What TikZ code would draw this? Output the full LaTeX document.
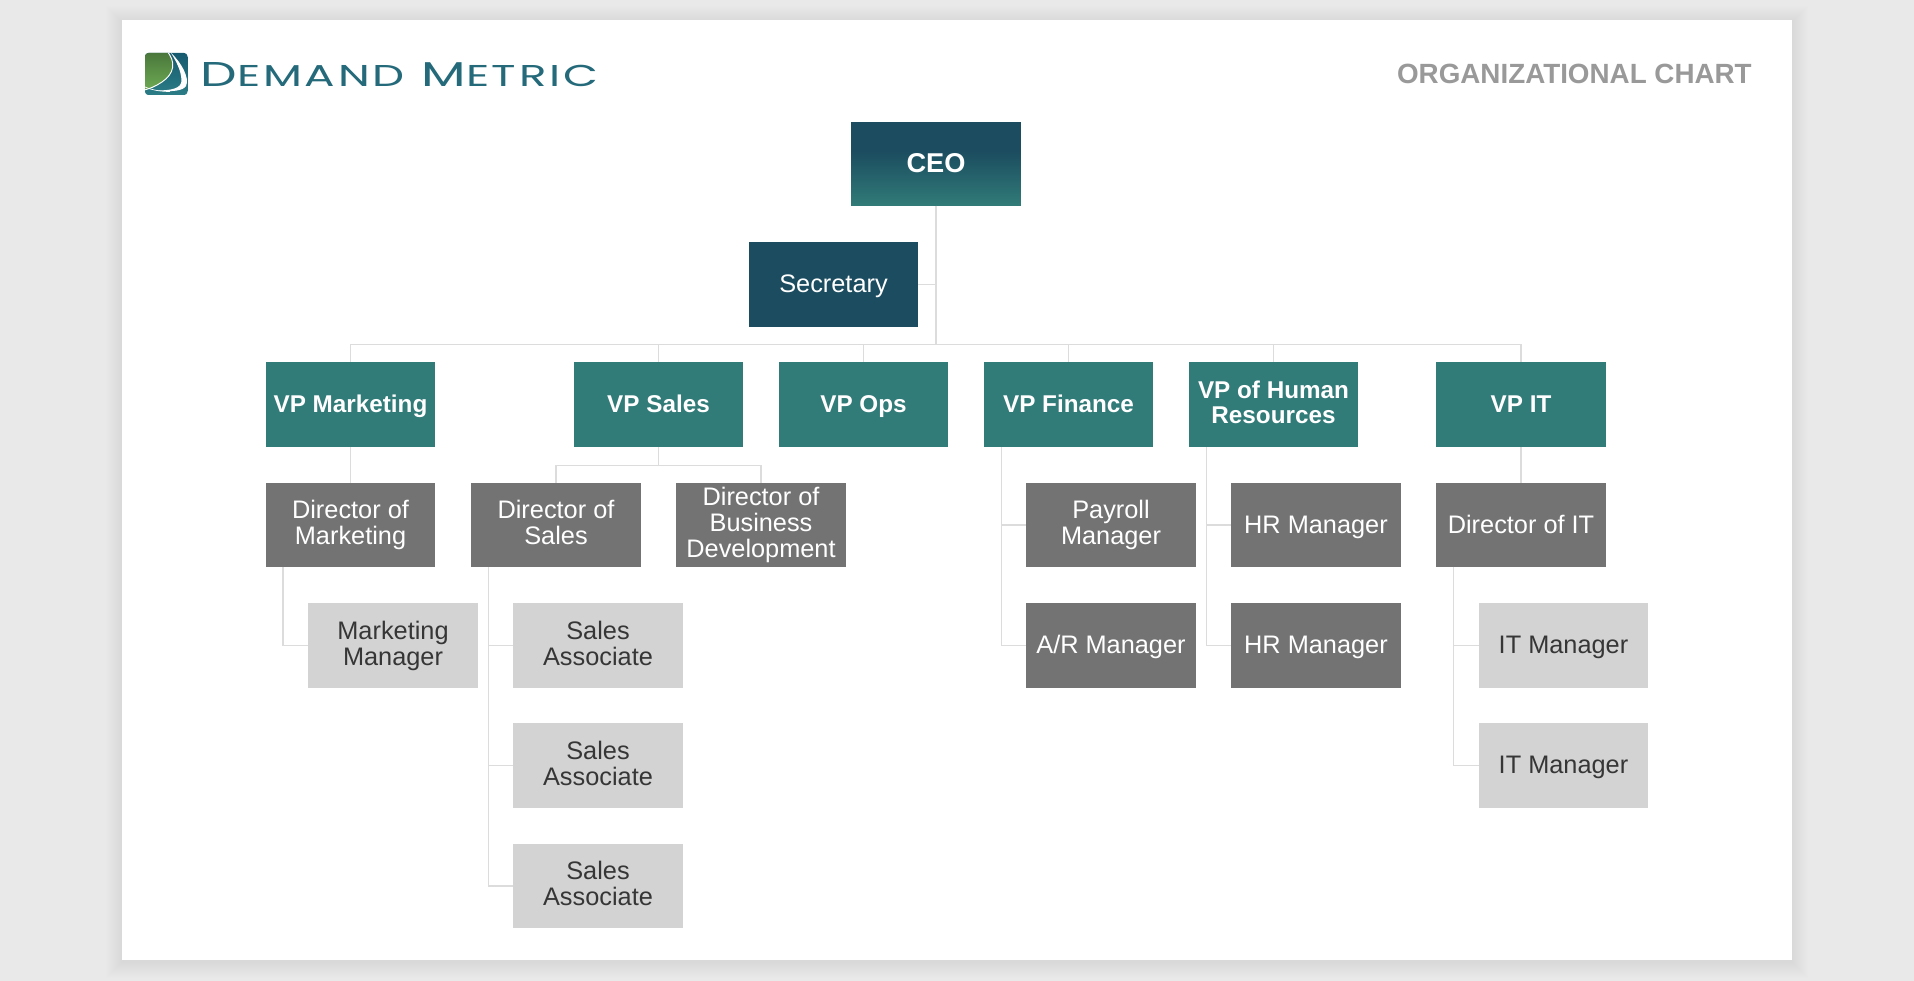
\documentclass[tikz,border=0pt]{standalone}
\usepackage{fontspec}
\usepackage{graphicx}
\setmainfont{Liberation Sans}
\newfontfamily\logofont{Poppins}
\definecolor{pagebg}{HTML}{E9E9E9}
\definecolor{tealdark}{HTML}{1B4C5F}
\definecolor{tealvp}{HTML}{317B78}
\definecolor{greydir}{HTML}{737373}
\definecolor{greymgr}{HTML}{D3D3D3}
\definecolor{textdark}{HTML}{363636}
\definecolor{linkgrey}{HTML}{DCDCDC}
\definecolor{titlegrey}{HTML}{999999}
\definecolor{logotext}{HTML}{246A7A}
\definecolor{logogreentop}{HTML}{47743A}
\definecolor{logogreenbot}{HTML}{6FAB54}
\definecolor{logotealtop}{HTML}{175A70}
\definecolor{logotealbot}{HTML}{2B7D86}
\pgfdeclareverticalshading{ceograd}{100bp}{color(0bp)=(tealvp); color(25bp)=(tealvp); color(58bp)=(tealdark); color(100bp)=(tealdark)}
\newcommand{\lblstrut}{\rule[-3.5pt]{0pt}{19.5pt}}
\newcommand{\ceostrut}{\rule[-3pt]{0pt}{19pt}}
\tikzset{
  x=0.75pt,y=-0.75pt,
  box/.style={inner sep=0pt,outer sep=0pt,align=center,minimum width=127.2pt,minimum height=63.5pt,
    execute at begin node=\lblstrut,execute at end node=\lblstrut},
  ceobox/.style={box,shading=ceograd,minimum height=62.6pt,text=white,
    font=\fontsize{20.4}{21}\selectfont\bfseries,execute at begin node=\ceostrut,execute at end node=\ceostrut},
  secbox/.style={box,fill=tealdark,text=white,font=\fontsize{19}{19.5}\selectfont},
  vpbox/.style={box,fill=tealvp,text=white,font=\fontsize{18.2}{18.6}\selectfont\bfseries},
  dirbox/.style={box,fill=greydir,text=white,font=\fontsize{19}{19.5}\selectfont},
  mgrbox/.style={box,fill=greymgr,text=textdark,font=\fontsize{19}{19.5}\selectfont},
  link/.style={draw=linkgrey,line width=0.8pt},
  linkthick/.style={draw=linkgrey,line width=1.3pt},
}
\begin{document}
\begin{tikzpicture}
\useasboundingbox (0,0) rectangle (1914,981);
\fill[pagebg] (0,0) rectangle (1914,981);
\foreach \i in {16,15,...,1}{
  \fill[black,opacity=0.004] (122-\i,20-\i+2) rectangle (1792+\i,960+\i+2);
}
\fill[white] (122,20.5) rectangle (1792,960);

% logo
\begin{scope}
  \clip[rounded corners=2.5pt] (145,53) rectangle (187.5,95);
  \shade[top color=logotealtop,bottom color=logotealbot] (145,53) rectangle (187.5,95);
  \shade[top color=logogreentop,bottom color=logogreenbot]
     (140,50) -- (166,50) .. controls (177,62) and (174,74) .. (162,82) .. controls (156,86) and (150,89) .. (140,91) -- cycle;
  \draw[white,line width=0.7pt] (166,50) .. controls (177,62) and (174,74) .. (162,82) .. controls (156,86) and (150,89) .. (140,91);
  \draw[white,line width=0.5pt] (145,87) .. controls (152,90) and (160,91.5) .. (170,91.5);
  \fill[white] (171,53) .. controls (181,62) and (190,78) .. (186,86) .. controls (183,91) and (172,92) .. (156,90.5)
     .. controls (170,90.5) and (182,89) .. (181.5,80) .. controls (181,70) and (176,61) .. (171,53) -- cycle;
\end{scope}
\node[anchor=base west,inner sep=0pt,text=logotext] (logotxt) at (200.5,86)
  {\resizebox{298pt}{18pt}{\logofont\addfontfeature{LetterSpace=6}\fontsize{28}{28}\selectfont D\fontsize{24.5}{28}\selectfont EMAND\fontsize{28}{28}\selectfont\ M\fontsize{24.5}{28}\selectfont ETRIC}};
\node[anchor=base east,inner sep=0pt,text=titlegrey,font=\fontsize{20.85}{21}\selectfont\bfseries] (title) at (1752,83.3) {ORGANIZATIONAL CHART};

% nodes
\node[ceobox] (ceo) at (936,164) {CEO};
\node[secbox] (sec) at (833.5,284.5) {Secretary};
\node[vpbox] (vpm) at (350.5,404.5) {VP Marketing};
\node[vpbox] (vps) at (658.5,404.5) {VP Sales};
\node[vpbox] (vpo) at (863.5,404.5) {VP Ops};
\node[vpbox] (vpf) at (1068.5,404.5) {VP Finance};
\node[vpbox] (vph) at (1273.5,404.5) {VP of Human\\Resources};
\node[vpbox] (vpi) at (1521,404.5) {VP IT};
\node[dirbox] (dm) at (350.5,525) {Director of\\Marketing};
\node[dirbox] (ds) at (556,525) {Director of\\Sales};
\node[dirbox] (db) at (761,525) {Director of\\Business\\Development};
\node[dirbox] (pay) at (1111,525) {Payroll\\Manager};
\node[dirbox] (hra) at (1316,525) {HR Manager};
\node[dirbox] (dit) at (1521,525) {Director of IT};
\node[mgrbox] (mm) at (393,645.5) {Marketing\\Manager};
\node[mgrbox] (saa) at (598,645.5) {Sales\\Associate};
\node[dirbox] (ar) at (1111,645.5) {A/R Manager};
\node[dirbox] (hrb) at (1316,645.5) {HR Manager};
\node[mgrbox] (ita) at (1563.5,645.5) {IT Manager};
\node[mgrbox] (sab) at (598,765.5) {Sales\\Associate};
\node[mgrbox] (itb) at (1563.5,765.5) {IT Manager};
\node[mgrbox] (sac) at (598,886) {Sales\\Associate};

% connector helpers
\coordinate (bus) at (936,344.5);
\coordinate (sbus) at (658.5,465.3);
\coordinate (dmT) at (283,567);
\coordinate (dsT) at (488.5,567);
\coordinate (finT) at (1001.7,447);
\coordinate (hrT) at (1206.7,447);
\coordinate (itT) at (1453.7,567);

% connectors
\draw[linkthick] (ceo.south) -- (bus);
\draw[link] (sec.east) -- (sec.east -| ceo.south);
\draw[link] (vpm.north) |- (bus) -| (vpi.north);
\draw[link] (vps.north) -- (vps.north |- bus);
\draw[link] (vpo.north) -- (vpo.north |- bus);
\draw[link] (vpf.north) -- (vpf.north |- bus);
\draw[link] (vph.north) -- (vph.north |- bus);
\draw[link] (vpm.south) -- (dm.north);
\draw[link] (vps.south) -- (sbus);
\draw[link] (ds.north) |- (sbus) -| (db.north);
\draw[link] (vpi.south) -- (dit.north);
\draw[link] (dmT) |- (mm.west);
\draw[link] (dsT) |- (saa.west);
\draw[link] (dsT) |- (sab.west);
\draw[link] (dsT) |- (sac.west);
\draw[link] (finT) |- (pay.west);
\draw[link] (finT) |- (ar.west);
\draw[link] (hrT) |- (hra.west);
\draw[link] (hrT) |- (hrb.west);
\draw[link] (itT) |- (ita.west);
\draw[link] (itT) |- (itb.west);
\end{tikzpicture}
\end{document}
